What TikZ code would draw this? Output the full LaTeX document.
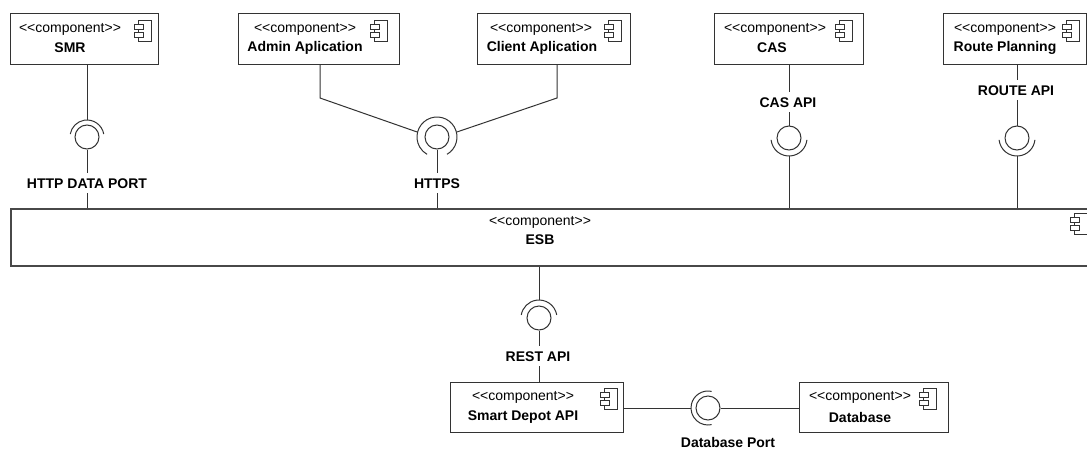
\documentclass[tikz,border=0pt]{standalone}
\usepackage{fontspec}
\newfontfamily\uifont{Liberation Sans}
\usetikzlibrary{calc}
\definecolor{ink}{HTML}{333333}
\definecolor{esbline}{HTML}{484848}

\tikzset{
  compbox/.style={draw=ink, line width=1.1pt, fill=white, rectangle, inner sep=0pt},
  esbbox/.style={compbox, draw=esbline, line width=1.7pt},
  stereo/.style={font=\uifont\fontsize{14}{16}\selectfont, inner sep=0pt},
  cname/.style={font=\uifont\bfseries\fontsize{14}{16}\selectfont, inner sep=0pt},
  port/.style={font=\uifont\bfseries\fontsize{14}{16}\selectfont,
    text height=10pt, text depth=0pt, inner xsep=2pt, inner ysep=5pt},
  wire/.style={draw=ink, line width=1pt},
  ball/.style={circle, draw=ink, line width=1pt, minimum size=24pt, inner sep=0pt},
  socket/.style={draw=ink, line width=1pt},
  pics/compicon/.style={code={
    \draw[ink, line width=0.9pt, fill=white] (-13,0) rectangle (0,-21);
    \draw[ink, line width=0.9pt, fill=white] (-17,-4) rectangle (-8,-9);
    \draw[ink, line width=0.9pt, fill=white] (-17,-12) rectangle (-8,-17);
  }},
}

\begin{document}
\begin{tikzpicture}[x=1pt, y=1pt]
\useasboundingbox (0,0) rectangle (1087,-450);
\fill[white] (0,0) rectangle (1087,-450);
\clip (0,0) rectangle (1087,-450);

% ---- components ----
\node[compbox, minimum width=148pt, minimum height=51pt, anchor=north west] (smr) at (10,-13) {};
\pic at (151,-20) {compicon};
\node[stereo] (smr-st) at (70,-29) {<<component>>};
\node[cname] (smr-nm) at (70,-48) {SMR};

\node[compbox, minimum width=161pt, minimum height=51pt, anchor=north west] (admin) at (238,-13) {};
\pic at (387,-20) {compicon};
\node[stereo] (admin-st) at (305,-29) {<<component>>};
\node[cname] (admin-nm) at (305,-48) {Admin Aplication};

\node[compbox, minimum width=153pt, minimum height=51pt, anchor=north west] (client) at (477,-13) {};
\pic at (621,-20) {compicon};
\node[stereo] (client-st) at (541,-29) {<<component>>};
\node[cname] (client-nm) at (542,-48) {Client Aplication};

\node[compbox, minimum width=149pt, minimum height=51pt, anchor=north west] (cas) at (714,-13) {};
\pic at (852,-20) {compicon};
\node[stereo] (cas-st) at (775,-29) {<<component>>};
\node[cname] (cas-nm) at (772,-48) {CAS};

\node[compbox, minimum width=143pt, minimum height=51pt, anchor=north west] (route) at (943,-13) {};
\pic at (1079,-20) {compicon};
\node[stereo] (route-st) at (1005,-29) {<<component>>};
\node[cname] (route-nm) at (1005,-48) {Route Planning};

\node[esbbox, minimum width=1085pt, minimum height=57pt, anchor=north west] (esb) at (10,-208) {};
\pic at (1087,-213) {compicon};
\node[stereo] (esb-st) at (540,-222) {<<component>>};
\node[cname] (esb-nm) at (540,-240) {ESB};

\node[compbox, minimum width=173pt, minimum height=50pt, anchor=north west] (sd) at (450,-382) {};
\pic at (617,-388) {compicon};
\node[stereo] (sd-st) at (523,-397) {<<component>>};
\node[cname] (sd-nm) at (523,-417) {Smart Depot API};

\node[compbox, minimum width=149pt, minimum height=50pt, anchor=north west] (db) at (799,-382) {};
\pic at (936,-388) {compicon};
\node[stereo] (db-st) at (860,-397) {<<component>>};
\node[cname] (db-nm) at (860,-417) {Database};

% ---- provided / required interfaces ----
\node[ball] (b-smr) at (87,-137) {};
\node[ball] (b-https) at (437,-137) {};
\node[ball] (b-cas) at (789,-138) {};
\node[ball] (b-route) at (1017,-138) {};
\node[ball] (b-rest) at (539,-318) {};
\node[ball] (b-db) at (708,-408) {};

\draw[socket] ($(b-smr.center)+(10:17pt)$) arc[start angle=10, end angle=170, radius=17pt];
\draw[socket] ($(b-https.center)+(-60:20pt)$) arc[start angle=-60, end angle=240, radius=20pt];
\draw[socket] ($(b-cas.center)+(186:18pt)$) arc[start angle=186, end angle=354, radius=18pt];
\draw[socket] ($(b-route.center)+(186:18pt)$) arc[start angle=186, end angle=354, radius=18pt];
\draw[socket] ($(b-rest.center)+(10:18pt)$) arc[start angle=10, end angle=170, radius=18pt];
\draw[socket] ($(b-db.center)+(78:17pt)$) arc[start angle=78, end angle=282, radius=17pt];

% ---- interface labels ----
\node[port] (l-smr) at (87,-183) {HTTP DATA PORT};
\node[port] (l-https) at (437,-183) {HTTPS};
\node[port] (l-cas) at (788,-102) {CAS API};
\node[port] (l-route) at (1016,-90) {ROUTE API};
\node[port] (l-rest) at (538,-356) {REST API};
\node[port] (l-db) at (728,-442) {Database Port};

% ---- connection points ----
\coordinate (s-smr) at ($(b-smr.center)+(90:17pt)$);
\coordinate (h-left) at ($(b-https.center)+(166:20pt)$);
\coordinate (h-right) at ($(b-https.center)+(14:20pt)$);
\coordinate (admin-bend) at (320,-98);
\coordinate (client-bend) at (557,-98);
\coordinate (s-cas) at ($(b-cas.center)+(270:18pt)$);
\coordinate (s-route) at ($(b-route.center)+(270:18pt)$);
\coordinate (s-rest) at ($(b-rest.center)+(90:18pt)$);
\coordinate (s-db) at ($(b-db.center)+(180:17pt)$);

% ---- connectors ----
\draw[wire] (smr.south -| b-smr) -- (s-smr);
\draw[wire] (b-smr.south) -- (l-smr.north);
\draw[wire] (l-smr.south) -- (l-smr.south |- esb.north);

\draw[wire] (admin.south -| admin-bend) -- (admin-bend) -- (h-left);
\draw[wire] (client.south -| client-bend) -- (client-bend) -- (h-right);
\draw[wire] (b-https.south) -- (l-https.north);
\draw[wire] (l-https.south) -- (l-https.south |- esb.north);

\draw[wire] (cas.south -| b-cas) -- (l-cas.north -| b-cas);
\draw[wire] (l-cas.south -| b-cas) -- (b-cas.north);
\draw[wire] (s-cas) -- (esb.north -| s-cas);

\draw[wire] (route.south -| b-route) -- (l-route.north -| b-route);
\draw[wire] (l-route.south -| b-route) -- (b-route.north);
\draw[wire] (s-route) -- (esb.north -| s-route);

\draw[wire] (esb.south -| s-rest) -- (s-rest);
\draw[wire] (b-rest.south) -- (l-rest.north -| b-rest);
\draw[wire] (l-rest.south -| b-rest) -- (sd.north -| b-rest);

\draw[wire] (sd.east |- b-db) -- (s-db);
\draw[wire] (b-db.east) -- (db.west |- b-db);
\end{tikzpicture}
\end{document}
